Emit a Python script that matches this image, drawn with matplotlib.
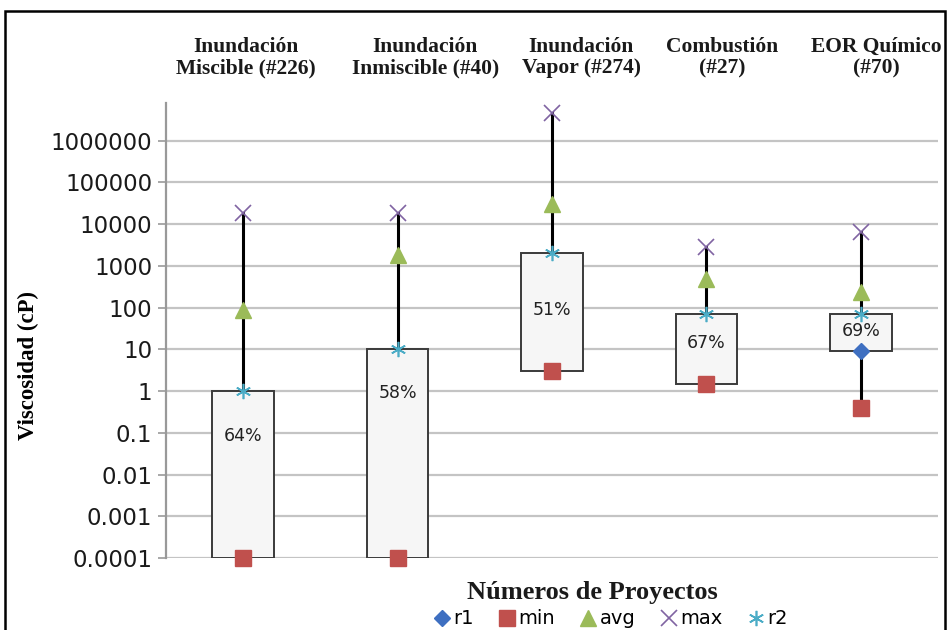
import numpy as np
import matplotlib.pyplot as plt
from matplotlib.patches import Rectangle

# Viscosity ranges per EOR method (cP)
methods = ["Inundación\nMiscible (#226)", "Inundación\nInmiscible (#40)",
           "Inundación\nVapor (#274)", "Combustión\n(#27)", "EOR Químico\n(#70)"]
r1 = [0.0001, 0.0001, 3.0, 1.45, 9.0]
v_min = [0.0001, 0.0001, 3.0, 1.45, 0.4]
v_avg = [90, 1800, 31000, 490, 240]
v_max = [18000, 18000, 4.7e6, 2800, 6400]
r2 = [1.0, 10.0, 2000, 70, 72]
pct = ["64%", "58%", "51%", "67%", "69%"]

ytick_vals = [1e-4, 1e-3, 1e-2, 1e-1, 1, 10, 100, 1e3, 1e4, 1e5, 1e6]
ytick_labels = ["0.0001", "0.001", "0.01", "0.1", "1", "10", "100",
                "1000", "10000", "100000", "1000000"]

fig = plt.figure(figsize=(9.48, 6.3), dpi=100)
ax = fig.add_axes([166 / 948, 72 / 630, 772 / 948, 455 / 630])

x = np.arange(len(methods))
box_w = 0.4

# whiskers behind the boxes
for i in x:
    ax.plot([i, i], [v_min[i], v_max[i]], color="black", lw=2.2, zorder=2)
    ax.add_patch(Rectangle((i - box_w / 2, r1[i]), box_w, r2[i] - r1[i],
                           facecolor="#f6f6f6", edgecolor="#3a3a3a", lw=1.4, zorder=3))

# percentage labels inside boxes
label_pos = [0.085, 0.9, 90, 14.5, 28]
for i in x:
    ax.text(i, label_pos[i], pct[i], ha="center", va="center", fontsize=12.5,
            color="#222222", zorder=4)

ms = 11
kw = dict(ls="none", zorder=5, clip_on=False)
ax.plot(x, r1, marker="D", color="#3e6fc1", ms=8, label="r1", **kw)
ax.plot(x, v_min, marker="s", color="#c0504d", ms=ms, label="min", **kw)
ax.plot(x, v_avg, marker="^", color="#9bbb59", ms=ms + 1, label="avg", **kw)
ax.plot(x, v_max, marker="x", color="#8064a2", ms=ms, mew=1.2, label="max", **kw)
ax.plot(x, r2, marker=(6, 2, 0), color="#4bacc6", ms=ms, mew=1.2, label="r2", **kw)

ax.set_yscale("log")
ax.set_ylim(1e-4, 8e6)
ax.set_xlim(-0.5, len(methods) - 0.5)
ax.set_yticks(ytick_vals)
ax.set_yticklabels(ytick_labels)
ax.minorticks_off()
ax.set_xticks([])
ax.tick_params(axis="y", length=6, width=1.2, color="#999999", labelsize=16.5,
               labelcolor="#1a1a1a", pad=4)
ax.grid(axis="y", color="#c4c4c4", lw=1.6, zorder=0)
for s in ["top", "right", "bottom"]:
    ax.spines[s].set_visible(False)
ax.spines["left"].set_color("#999999")
ax.spines["left"].set_linewidth(1.6)

# method names above the plot
head_offset = [0.02, 0.18, 0.19, 0.1, 0.1]
for i in x:
    ax.text(i + head_offset[i], 1.10, methods[i], transform=ax.get_xaxis_transform(),
            ha="center", va="center", fontsize=15.5, fontweight="bold",
            family="Liberation Serif", linespacing=1.1, color="#1a1a1a")

fig.text(28 / 948, 1 - 365 / 630, "Viscosidad (cP)", rotation=90, ha="center", va="center",
         fontsize=16.5, fontweight="bold", family="Liberation Serif")
fig.text(592 / 948, 1 - 592 / 630, "Números de Proyectos", ha="center", va="center",
         fontsize=19, fontweight="bold", family="Liberation Serif", color="#1a1a1a")

handles, labels = ax.get_legend_handles_labels()
fig.legend(handles, labels, loc="center", bbox_to_anchor=(612 / 948, 1 - 619 / 630),
           ncol=5, frameon=False, fontsize=14, handlelength=0.6, handletextpad=0.3,
           columnspacing=1.4, borderpad=0.1)

# outer frame
fig.patches.append(Rectangle((5 / 948, -0.05), 940 / 948, 1.05 - 11 / 630,
                             transform=fig.transFigure, fill=False, edgecolor="black",
                             lw=1.8, clip_on=False))

fig.savefig("out.png", dpi=100)
